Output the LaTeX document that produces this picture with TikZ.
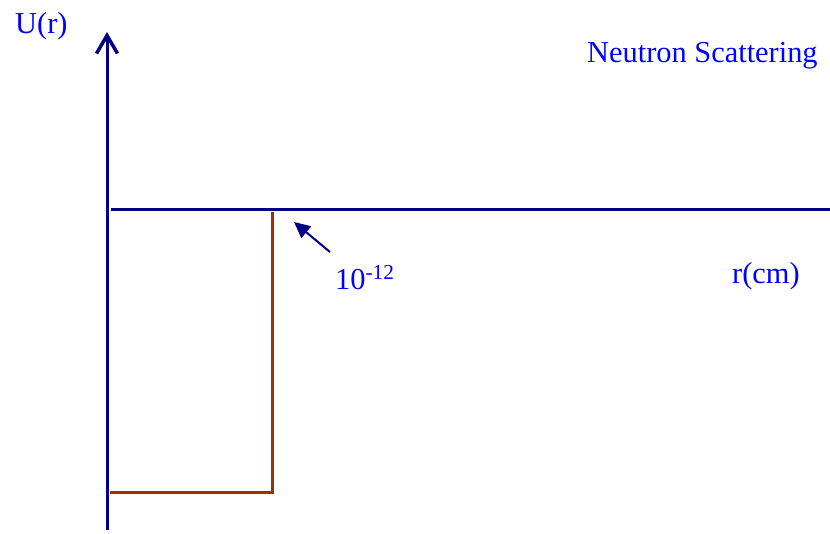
\documentclass[tikz,border=0pt]{standalone}
\usepackage{fontspec}
\setmainfont{Liberation Serif}
\usepackage{xcolor}
\usetikzlibrary{arrows.meta}
\definecolor{axisnavy}{RGB}{0,0,128}
\definecolor{wellbrown}{RGB}{153,51,0}
\definecolor{labelblue}{RGB}{0,0,255}

\begin{document}
\begin{tikzpicture}[
  x=1pt,y=-1pt,
  ax/.style={draw=axisnavy,line width=3pt},
  wl/.style={draw=wellbrown,line width=3pt},
  t/.style={text=labelblue,font=\fontsize{30.4}{36}\selectfont,inner sep=0pt,anchor=base west}
]
\useasboundingbox (0,0) rectangle (830,533);

\coordinate (origin) at (107,530);
\coordinate (ytop) at (107,32);
\coordinate (zero) at (111,209);
\coordinate (xend) at (830,209);
\coordinate (wellbot) at (110,492);
\coordinate (wellcorner) at (272,492);
\coordinate (welltop) at (272,212);
\coordinate (edge) at (294,222);
\coordinate (tail) at (330,252);

\node[t] (ulabel) at (15,33) {U(r)};
\node[t] (title) at (587,62) {Neutron Scattering};
\node[t] (radius) at (335,289) {10\textsuperscript{-12}};
\node[t] (rlabel) at (732,283) {r(cm)};

\draw[ax,-{Straight Barb[length=18pt,width=21pt,line width=3.5pt]}] (origin) -- (ytop);
\draw[ax] (zero) -- (xend);
\draw[wl] (wellbot) -- (wellcorner) -- (welltop);
\draw[draw=axisnavy,line width=2pt,-{Triangle[length=16pt,width=15pt]}] (tail) -- (edge);
\end{tikzpicture}
\end{document}
